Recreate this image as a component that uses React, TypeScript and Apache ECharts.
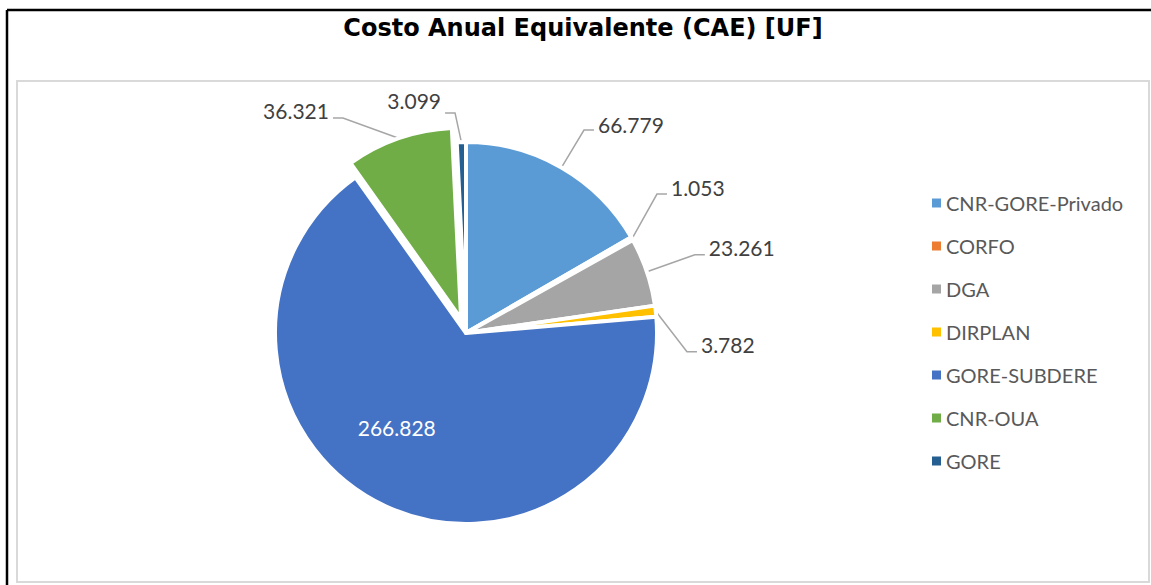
import React, { useEffect, useRef } from "react";
import * as echarts from "echarts";

// ---- data ----
const titleText = "Costo Anual Equivalente (CAE) [UF]";
const categories = ["CNR-GORE-Privado", "CORFO", "DGA", "DIRPLAN", "GORE-SUBDERE", "CNR-OUA", "GORE"];
const values = [66779, 1053, 23261, 3782, 266828, 36321, 3099];
const colors = ["#5B9BD5", "#ED7D31", "#A5A5A5", "#FFC000", "#4472C4", "#70AD47", "#255E91"];

// ---- layout / style ----
const CENTER = [466, 333];
const RADIUS = 191;
const EXPLODED = 5; // CNR-OUA slice pulled out
const EXPLODE_DIST = 15;
const INSIDE = 4; // GORE-SUBDERE label inside
const LEN = 30;
const LEN2 = 10;
// elbow nudges of leader lines [dx, dy, label lift] (Excel-style label placement)
const nudges = [
  [7.6, -11.5, -6],
  [-1.2, -29.8, -6.5],
  [19.5, -7.5, -7],
  [1.4, 44, -7],
  [-27.8, 5, 0],
  [-45.9, 8, -7],
  [-5.6, 0.9, -12],
];

const fmt = (n: number) => String(n).replace(/\B(?=(\d{3})+(?!\d))/g, ".");

export default function App() {
  const ref = useRef<HTMLDivElement>(null);
  useEffect(() => {
    if (!ref.current) return;
    const chart = echarts.init(ref.current, undefined, { renderer: "svg" });
    const total = values.reduce((a, b) => a + b, 0);
    const before = values.slice(0, EXPLODED).reduce((a, b) => a + b, 0);
    const mid = ((before + values[EXPLODED] / 2) / total) * Math.PI * 2;
    const center2 = [CENTER[0] + EXPLODE_DIST * Math.sin(mid), CENTER[1] - EXPLODE_DIST * Math.cos(mid)];

    const labelLayout = (params: any) => {
      const i = params.dataIndex;
      const nd = nudges[i];
      const rect = params.labelRect;
      if (!nd || !rect) return {};
      if (i === INSIDE) {
        return {
          x: rect.x + rect.width / 2 + nd[0],
          y: rect.y + rect.height / 2 + nd[1],
          align: "center",
          verticalAlign: "middle",
        };
      }
      const pts = params.labelLinePoints;
      if (!pts) return {};
      const p0 = pts[0];
      const p1 = [pts[1][0] + nd[0], pts[1][1] + nd[1]];
      const side = pts[2][0] >= pts[1][0] ? 1 : -1;
      const p2 = [p1[0] + side * LEN2, p1[1]];
      return {
        x: p2[0] + side * 4,
        y: p2[1] + nd[2],
        align: side > 0 ? "left" : "right",
        verticalAlign: "middle",
        labelLinePoints: [p0, p1, p2],
      };
    };

    const baseLabel = {
      show: true,
      position: "outside",
      formatter: (p: any) => fmt(p.value),
      fontFamily: "Lato",
      fontSize: 21,
      color: "#404040",
    };
    const baseLine = {
      show: true,
      length: LEN,
      length2: LEN2,
      lineStyle: { color: "#A6A6A6", width: 1.5 },
    };

    const data1 = categories.map((name, i) => ({
      name,
      value: values[i],
      itemStyle: i === EXPLODED ? { color: "rgba(0,0,0,0)", borderWidth: 0 } : { color: colors[i] },
      label: i === EXPLODED ? { show: false } : i === INSIDE ? { position: "inside", color: "#ffffff" } : {},
      labelLine: i === EXPLODED ? { show: false } : {},
    }));
    const data2 = categories.map((name, i) => ({
      name,
      value: values[i],
      itemStyle: i === EXPLODED ? { color: colors[i] } : { color: "rgba(0,0,0,0)", borderWidth: 0 },
      label: i === EXPLODED ? {} : { show: false },
      labelLine: i === EXPLODED ? {} : { show: false },
    }));

    const common = {
      type: "pie",
      radius: RADIUS,
      startAngle: 90,
      clockwise: true,
      avoidLabelOverlap: false,
      itemStyle: { borderColor: "#ffffff", borderWidth: 4 },
      label: baseLabel,
      labelLine: baseLine,
      labelLayout,
      emphasis: { disabled: true },
      animation: false,
    };

    chart.setOption({
      animation: false,
      backgroundColor: "#ffffff",
      title: {
        text: titleText,
        left: 583,
        top: 16,
        padding: 0,
        textAlign: "center",
        textStyle: { fontFamily: "DejaVu Sans", fontWeight: "bold", fontSize: 24, color: "#000000" },
      },
      legend: {
        orient: "vertical",
        left: 932,
        top: 193,
        padding: 0,
        icon: "rect",
        itemWidth: 9,
        itemHeight: 9,
        itemGap: 23,
        itemStyle: { borderWidth: 0 },
        textStyle: { fontFamily: "Lato", fontSize: 20, color: "#595959" },
        data: categories.map((name, i) => ({ name, itemStyle: { color: colors[i], borderWidth: 0 } })),
      },
      graphic: [
        { type: "rect", z: -1, shape: { x: 17, y: 81, width: 1132, height: 501 }, style: { fill: "none", stroke: "#D9D9D9", lineWidth: 2 } },
        { type: "line", shape: { x1: 7, y1: 10, x2: 1151, y2: 10 }, style: { stroke: "#000000", lineWidth: 2.5 } },
        { type: "line", shape: { x1: 7, y1: 10, x2: 7, y2: 585 }, style: { stroke: "#000000", lineWidth: 2.5 } },
      ],
      series: [
        { ...common, name: "CAE", center: CENTER, data: data1 },
        { ...common, name: "CAE-exploded", center: center2, data: data2, silent: true },
      ],
    });
    return () => chart.dispose();
  }, []);
  return (
    <div
      ref={ref}
      style={{ position: "fixed", left: 0, top: 0, width: 1151, height: 585, background: "#fff" }}
    />
  );
}
